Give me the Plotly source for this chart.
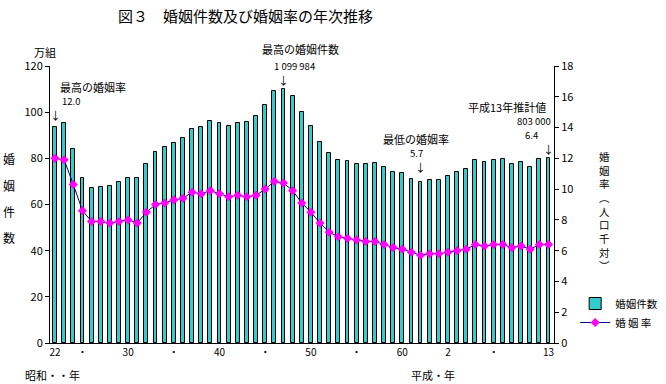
import plotly.graph_objects as go

# ---- data ----
years = list(range(1947, 2002))
marriages = [  # 婚姻件数 (組)
    934170, 953999, 842170, 715081, 671905, 676995, 682077, 697809, 714861, 715934,
    773362, 826902, 847135, 866115, 890158, 928341, 937516, 963130, 954852, 940120,
    953096, 956312, 984142, 1029405, 1091229, 1099984, 1071923, 1000455, 941628, 871543,
    821029, 793257, 788505, 774702, 776531, 781252, 762552, 739991, 735850, 710962,
    696173, 707716, 708316, 722138, 742264, 754441, 792658, 782738, 791888, 795080,
    775651, 784595, 762028, 798138, 803000,
]
rates = [  # 婚姻率 (人口千対)
    12.0, 11.9, 10.3, 8.6, 7.9, 7.9, 7.8, 7.9, 8.0, 7.8,
    8.5, 9.0, 9.1, 9.3, 9.4, 9.8, 9.7, 9.9, 9.7, 9.5,
    9.6, 9.5, 9.6, 10.0, 10.5, 10.4, 9.9, 9.1, 8.5, 7.8,
    7.2, 6.9, 6.8, 6.7, 6.6, 6.6, 6.4, 6.2, 6.1, 5.9,
    5.7, 5.8, 5.8, 5.9, 6.0, 6.1, 6.4, 6.3, 6.4, 6.4,
    6.2, 6.3, 6.1, 6.4, 6.4,
]
marriages_man = [m / 10000 for m in marriages]
tick_years = [1947, 1950, 1955, 1960, 1965, 1970, 1975, 1980, 1985, 1990, 1995, 2001]
tick_text = ["22", "・", "30", "・", "40", "・", "50", "・", "60", "2", "・", "13"]

FONT = "Noto Sans CJK JP"

fig = go.Figure()
fig.add_trace(go.Bar(
    x=years, y=marriages_man, name="婚姻件数",
    marker=dict(color="#33CCCC", line=dict(color="black", width=1)),
    width=0.42,
))
fig.add_trace(go.Scatter(
    x=years, y=rates, name="婚 姻 率", yaxis="y2", mode="lines+markers",
    line=dict(color="#000080", width=1),
    marker=dict(symbol="diamond", color="#FF00FF", size=7),
))

axis_font = dict(family=FONT, size=11, color="black")
fig.update_layout(
    width=666, height=384,
    margin=dict(l=50, r=112, t=66, b=41, autoexpand=False),
    paper_bgcolor="white", plot_bgcolor="white",
    font=dict(family=FONT, color="black"),
    bargap=0,
    xaxis=dict(
        range=[1946.45, 2001.6], tickvals=tick_years, ticktext=tick_text,
        showline=True, linecolor="black", linewidth=1, ticks="",
        showgrid=False, zeroline=False, tickfont=dict(family=FONT, size=10),
    ),
    yaxis=dict(
        range=[0, 120], dtick=20, showline=True, linecolor="black", linewidth=1,
        ticks="outside", ticklen=4, tickcolor="black", showgrid=False, zeroline=False,
        tickfont=axis_font,
    ),
    yaxis2=dict(
        range=[0, 18], dtick=2, overlaying="y", side="right", showline=True,
        linecolor="black", linewidth=1, ticks="outside", ticklen=4, tickcolor="black",
        showgrid=False, zeroline=False, tickfont=axis_font,
    ),
    legend=dict(
        x=1.042, y=0.195, xanchor="left", yanchor="top",
        font=dict(family=FONT, size=10.5), itemwidth=30, tracegroupgap=0,
        bgcolor="rgba(0,0,0,0)",
    ),
    showlegend=True,
)

def px_x(px):
    return (px - 50) / 504

def px_y(py):
    return (343 - py) / 277

def note(text, x, y, size=11, xanchor="center", xref="paper"):
    fig.add_annotation(text=text, x=x, y=y, xref=xref, yref="paper",
                       showarrow=False, xanchor=xanchor, yanchor="middle",
                       font=dict(family=FONT, size=size, color="black"))

# title
note("図３　婚姻件数及び婚姻率の年次推移", px_x(245), px_y(15), size=15)
note("万組", px_x(45), px_y(52), size=11)

# left vertical title
for ch, py in zip("婚姻件数", [158, 185, 211, 238]):
    note(ch, px_x(9), px_y(py), size=12)

# right vertical title (stacked characters)
note("<br>".join("婚姻率︵人口千対︶"), px_x(604), px_y(211), size=10.5)

# highlights
note("最高の婚姻率", px_x(93), px_y(87), size=11)
note("12.0", px_x(71), px_y(101), size=9.5)
note("↓", 1947, px_y(115), size=11, xref="x")

note("最高の婚姻件数", px_x(300), px_y(49), size=11)
note("1 099 984", px_x(294), px_y(65.5), size=9.5)
note("↓", 1972, px_y(80.5), size=11, xref="x")

note("最低の婚姻率", px_x(416), px_y(139), size=11)
note("5.7", px_x(416), px_y(153), size=9.5)
note("↓", 1987, px_y(167), size=11, xref="x")

note("平成13年推計値", px_x(507), px_y(107), size=11)
note("803 000", px_x(553), px_y(121), size=9.5, xanchor="right")
note("6.4", px_x(531), px_y(134.5), size=9.5)
note("↓", 2001, px_y(148.5), size=11, xref="x")

# era labels
note("昭和・・年", px_x(23), px_y(375), size=11, xanchor="left")
note("平成・年", px_x(409), px_y(375), size=11, xanchor="left")

fig.write_html("out.html", config={"displayModeBar": False},
               post_script="document.body.style.margin='0';")
